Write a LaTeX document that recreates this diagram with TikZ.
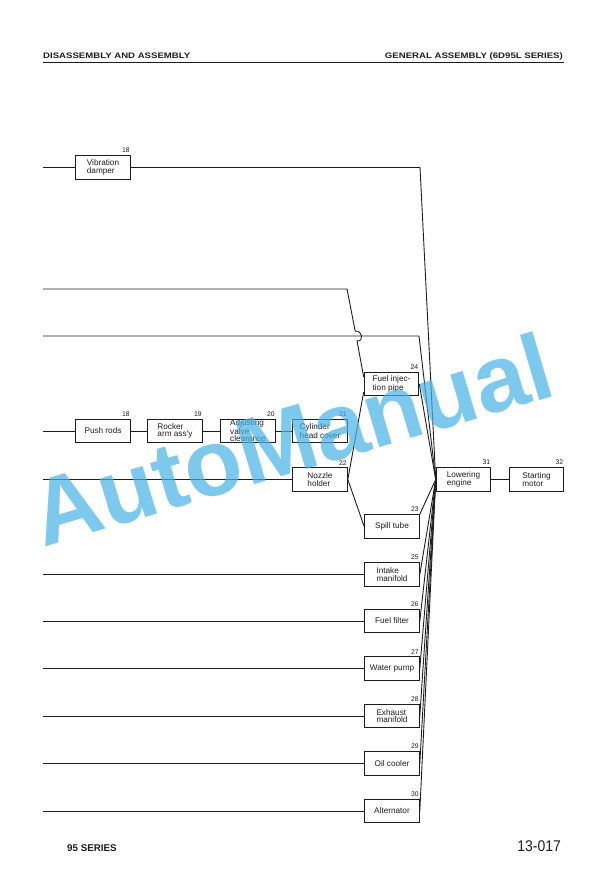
\documentclass[tikz,border=0pt]{standalone}
\usepackage{fontspec}
\setmainfont{Liberation Sans}
\usepackage{graphicx}
\usetikzlibrary{calc}
\definecolor{ink}{RGB}{30,30,30}
\definecolor{wmblue}{RGB}{70,178,230}
\begin{document}
\begin{tikzpicture}[x=1pt,y=-1pt,
  box/.style={draw=ink, line width=1.1pt, minimum width=54.5pt, minimum height=23.5pt,
    inner sep=0pt, align=left, text=ink, font=\fontsize{8.2}{7.4}\selectfont},
  num/.style={anchor=south east, inner sep=0pt, text=ink, font=\fontsize{6.8}{6.8}\selectfont},
  ln/.style={draw=ink, line width=0.9pt, line join=round},
  hdr/.style={inner sep=0pt, text=ink, font=\fontsize{8}{8}\selectfont\bfseries}]
\useasboundingbox (0,0) rectangle (612,881);

% header and footer
\node[hdr, anchor=base west] (h1) at (43,58.5) {\scalebox{1.2}[1]{DISASSEMBLY AND ASSEMBLY}};
\node[hdr, anchor=base east] (h2) at (563,58.5) {\scalebox{1.2}[1]{GENERAL ASSEMBLY (6D95L SERIES)}};
\coordinate (r0) at (43,62.5);
\coordinate (r1) at (564,62.5);
\draw[ink, line width=1.6pt] (r0) -- (r1);
\node[inner sep=0pt, anchor=base west, text=ink, font=\fontsize{9.8}{9.8}\selectfont\bfseries] (f1) at (67,851.4) {95 SERIES};
\node[inner sep=0pt, anchor=base east, text=ink, font=\fontsize{15.5}{15.5}\selectfont] (f2) at (561,851.4) {\scalebox{0.9}[1]{13-017}};

% boxes
\node[box] (vib) at (103,167.5) {Vibration\\damper};
\node[box] (push) at (103,431) {Push rods};
\node[box] (rock) at (175,431) {Rocker\\arm ass'y};
\node[box] (adj) at (248,431) {Adjusting\\valve\\clearance};
\node[box] (cyl) at (320,431) {Cylinder\\head cover};
\node[box] (noz) at (320,479.5) {Nozzle\\holder};
\node[box] (fip) at (391.5,384) {Fuel injec-\\tion pipe};
\node[box] (spill) at (392,526.5) {Spill tube};
\node[box] (le) at (463.5,479.5) {Lowering\\engine};
\node[box] (sm) at (536.5,479.5) {Starting\\motor};
\node[box] (intk) at (392,574.5) {Intake\\manifold};
\node[box] (ff) at (392,621) {Fuel filter};
\node[box] (wp) at (392,668.5) {Water pump};
\node[box] (exh) at (392,716) {Exhaust\\manifold};
\node[box] (oil) at (392,763.5) {Oil cooler};
\node[box] (alt) at (392,811) {Alternator};

% numbers
\foreach \b/\n in {vib/18,push/18,rock/19,adj/20,cyl/21,noz/22,spill/23,fip/24,intk/25,ff/26,wp/27,exh/28,oil/29,alt/30,le/31,sm/32}
  \node[num] (n\b) at ($(\b.north east)+(-1,-2)$) {\n};

% left-hand feed lines
\coordinate (a0) at (43,167.5);
\coordinate (a1) at (420,167.5);
\draw[ln] (a0) -- (vib);
\draw[ln] (vib) -- (a1) -- (le.west);

\coordinate (b0) at (43,289);
\coordinate (b1) at (347,289);
\coordinate (hp1) at (355.2,331.1);
\coordinate (hp2) at (357.0,340.9);
\coordinate (hc1) at (362.5,330.1);
\coordinate (hc2) at (364.3,341.9);
\coordinate (fin) at ($(fip.west)+(0,-7)$);
\coordinate (fout) at ($(fip.west)+(0,8)$);
\draw[ln] (b0) -- (b1) -- (hp1) .. controls (hc1) and (hc2) .. (hp2) -- (fin);

\coordinate (c0) at (43,336);
\coordinate (c1) at (419,336);
\draw[ln] (c0) -- (c1) -- (le.west);

\coordinate (d0) at (43,431);
\draw[ln] (d0) -- (push);
\draw[ln] (push) -- (rock);
\draw[ln] (rock) -- (adj);
\draw[ln] (adj) -- (cyl);

\coordinate (e0) at (43,479.5);
\draw[ln] (e0) -- (noz);
\draw[ln] (fout) -- (noz.east);
\draw[ln] (noz.east) -- (spill.west);
\draw[ln] (fip.east) -- (le.west);
\draw[ln] (spill.north east) -- (le.west);

\foreach \b in {intk,ff,wp,exh,oil,alt}{
  \coordinate (s\b) at (43,0 |- \b.west);
  \draw[ln] (s\b) -- (\b);
  \draw[ln] (\b.east) -- (le.west);
}
\draw[ln] (le) -- (sm);

% watermark
\node[anchor=base, rotate=16.5, inner sep=0pt, text=wmblue, opacity=0.7,
  font=\fontsize{94}{94}\selectfont\bfseries] (wm) at (301,471) {AutoManual};
\end{tikzpicture}
\end{document}
